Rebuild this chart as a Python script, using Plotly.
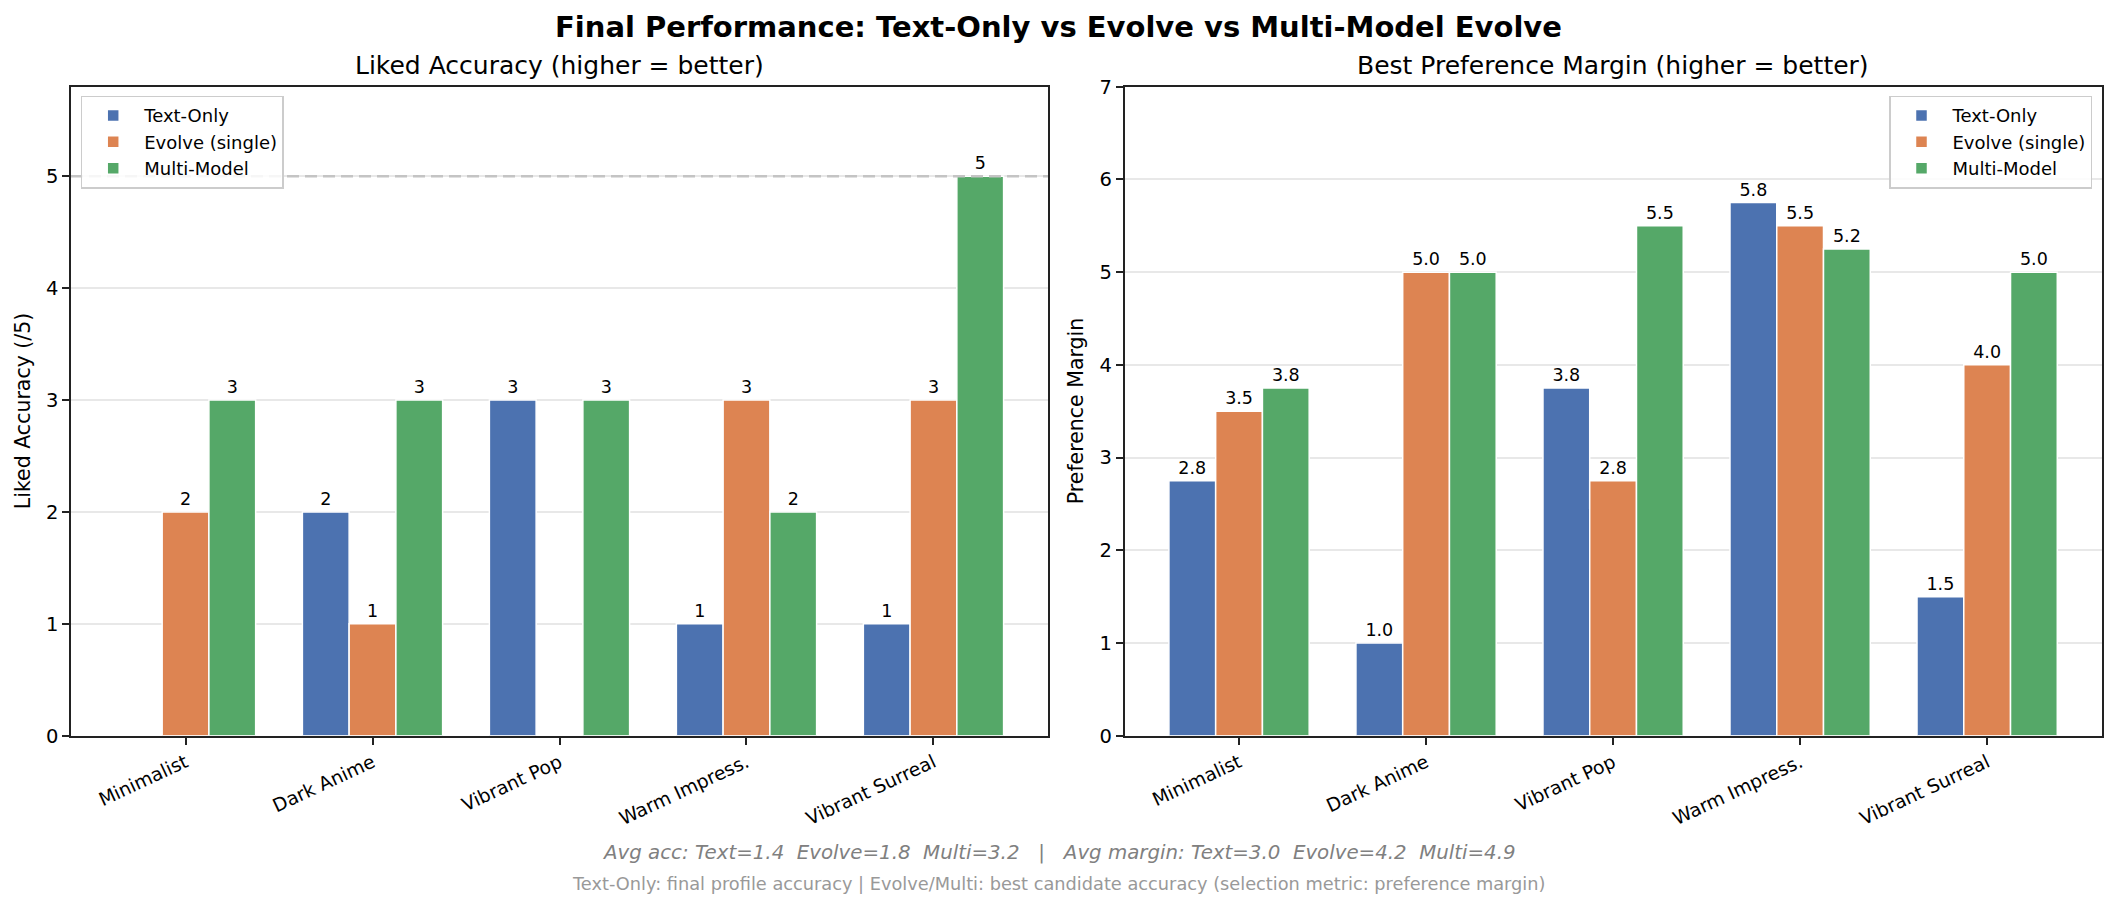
import plotly.graph_objects as go

# ---------------- data ----------------
categories = ["Minimalist", "Dark Anime", "Vibrant Pop", "Warm Impress.", "Vibrant Surreal"]
series_names = ["Text-Only", "Evolve (single)", "Multi-Model"]

acc_text = [0, 2, 3, 1, 1]
acc_evolve = [2, 1, 0, 3, 3]
acc_multi = [3, 3, 3, 2, 5]

margin_text = [2.75, 1.0, 3.75, 5.75, 1.5]
margin_evolve = [3.5, 5.0, 2.75, 5.5, 4.0]
margin_multi = [3.75, 5.0, 5.5, 5.25, 5.0]

max_score = 5
acc_ticks = [0, 1, 2, 3, 4, 5]
margin_ticks = [0, 1, 2, 3, 4, 5, 6, 7]

colors = ["#4C72B0", "#DD8452", "#55A868"]

W, H = 2117, 910
FONT = "DejaVu Sans"

def px_x(p):
    return p / W

def px_y(p):
    return (H - p) / H

# plot area pixel bounds
L1, R1 = 71, 1048
L2, R2 = 1124.5, 2101.7
TOP, BOT = 86.7, 735.7

fig = go.Figure()

acc_series = [acc_text, acc_evolve, acc_multi]
margin_series = [margin_text, margin_evolve, margin_multi]

for name, vals, col in zip(series_names, acc_series, colors):
    fig.add_trace(go.Bar(
        x=categories, y=vals, name=name, marker=dict(color=col, line=dict(color="white", width=1.5)),
        text=[f"{v:d}" if v > 0 else "" for v in vals], textposition="outside",
        textfont=dict(family=FONT, size=17.5, color="black"), constraintext="none",
        cliponaxis=False, xaxis="x", yaxis="y", legend="legend",
    ))

for name, vals, col in zip(series_names, margin_series, colors):
    fig.add_trace(go.Bar(
        x=categories, y=vals, name=name, marker=dict(color=col, line=dict(color="white", width=1.5)),
        text=[f"{v:.1f}" if v > 0 else "" for v in vals], textposition="outside",
        textfont=dict(family=FONT, size=17.5, color="black"), constraintext="none",
        cliponaxis=False, xaxis="x2", yaxis="y2", legend="legend2",
    ))

n = len(categories)
xr = [-0.6125, n - 1 + 0.6125]

axis_common = dict(
    showline=True, mirror=True, linecolor="#222222", linewidth=1.6,
    ticks="outside", ticklen=7, tickwidth=1.6, tickcolor="#222222",
    zeroline=False, automargin=False,
)

fig.update_layout(
    width=W, height=H, margin=dict(l=0, r=0, t=0, b=0, pad=0, autoexpand=False), autosize=False,
    paper_bgcolor="white", plot_bgcolor="white",
    barmode="group", bargap=0.25, bargroupgap=0,
    font=dict(family=FONT, color="black"),
    xaxis=dict(domain=[px_x(L1), px_x(R1)], anchor="y", range=xr, tickangle=-25,
               showgrid=False, tickfont=dict(family=FONT, size=18.75, color="black"), **axis_common),
    xaxis2=dict(domain=[px_x(L2), px_x(R2)], anchor="y2", range=xr, tickangle=-25,
                showgrid=False, tickfont=dict(family=FONT, size=18.75, color="black"), **axis_common),
    yaxis=dict(domain=[px_y(BOT), px_y(TOP)], anchor="x", range=[0, 5.8],
               tickvals=acc_ticks, showgrid=True, gridcolor="#e8e8e8", gridwidth=1.5,
               tickfont=dict(family=FONT, size=19.5, color="black"), **axis_common),
    yaxis2=dict(domain=[px_y(BOT), px_y(TOP)], anchor="x2", range=[0, 7],
                tickvals=margin_ticks, showgrid=True, gridcolor="#e8e8e8", gridwidth=1.5,
                tickfont=dict(family=FONT, size=19.5, color="black"), **axis_common),
    legend=dict(x=px_x(80.7), y=px_y(95.7), xanchor="left", yanchor="top",
                bgcolor="rgba(255,255,255,0.85)", bordercolor="#cccccc", borderwidth=1.5,
                font=dict(family=FONT, size=18, color="black"), tracegroupgap=0, itemwidth=52),
    legend2=dict(x=px_x(2092), y=px_y(95.7), xanchor="right", yanchor="top",
                 bgcolor="rgba(255,255,255,0.85)", bordercolor="#cccccc", borderwidth=1.5,
                 font=dict(family=FONT, size=18, color="black"), tracegroupgap=0, itemwidth=52),
    showlegend=True,
)

# dashed reference line at max score
fig.add_shape(type="line", xref="x domain", yref="y", x0=0, x1=1, y0=max_score, y1=max_score,
              line=dict(color="#c4c4c4", width=2.5, dash="12px,6px"), layer="above")

# titles and labels
ann = []
ann.append(dict(text="<b>Final Performance: Text-Only vs Evolve vs Multi-Model Evolve</b>",
                x=0.5, y=px_y(27), xref="paper", yref="paper", showarrow=False,
                font=dict(family=FONT, size=29, color="black"), xanchor="center", yanchor="middle"))
ann.append(dict(text="Liked Accuracy (higher = better)", x=px_x((L1 + R1) / 2), y=px_y(66),
                xref="paper", yref="paper", showarrow=False,
                font=dict(family=FONT, size=25, color="black"), xanchor="center", yanchor="middle"))
ann.append(dict(text="Best Preference Margin (higher = better)", x=px_x((L2 + R2) / 2), y=px_y(66),
                xref="paper", yref="paper", showarrow=False,
                font=dict(family=FONT, size=25, color="black"), xanchor="center", yanchor="middle"))
ann.append(dict(text="Liked Accuracy (/5)", x=px_x(23), y=px_y((TOP + BOT) / 2), xref="paper", yref="paper",
                showarrow=False, textangle=-90, font=dict(family=FONT, size=20.5, color="black"),
                xanchor="center", yanchor="middle"))
ann.append(dict(text="Preference Margin", x=px_x(1076), y=px_y((TOP + BOT) / 2), xref="paper", yref="paper",
                showarrow=False, textangle=-90, font=dict(family=FONT, size=20.5, color="black"),
                xanchor="center", yanchor="middle"))

def avg(v):
    return sum(v) / len(v)

sp = "\u00a0"
line1 = (f"Avg acc: Text={avg(acc_text):.1f}{sp*2}Evolve={avg(acc_evolve):.1f}{sp*2}Multi={avg(acc_multi):.1f}"
         f"{sp*3}|{sp*3}Avg margin: Text={avg(margin_text):.1f}{sp*2}Evolve={avg(margin_evolve):.1f}"
         f"{sp*2}Multi={avg(margin_multi):.1f}")
line2 = "Text-Only: final profile accuracy | Evolve/Multi: best candidate accuracy (selection metric: preference margin)"
ann.append(dict(text=f"<i>{line1}</i>", x=0.5, y=px_y(852), xref="paper", yref="paper", showarrow=False,
                font=dict(family=FONT, size=19.8, color="#808080"), xanchor="center", yanchor="middle"))
ann.append(dict(text=line2, x=0.5, y=px_y(884), xref="paper", yref="paper", showarrow=False,
                font=dict(family=FONT, size=17.75, color="#999999"), xanchor="center", yanchor="middle"))

fig.update_layout(annotations=ann)

post = ("document.documentElement.style.margin='0';document.documentElement.style.overflow='hidden';"
        "document.body.style.margin='0';document.body.style.padding='0';document.body.style.overflow='hidden';")
fig.write_html("out.html", config={"displayModeBar": False, "responsive": False}, post_script=post)
